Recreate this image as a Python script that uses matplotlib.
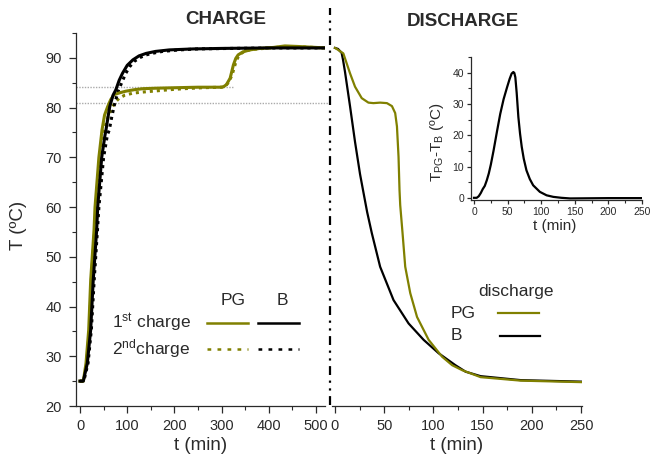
import numpy as np
import matplotlib
matplotlib.use("Agg")
import matplotlib.pyplot as plt
from matplotlib.lines import Line2D
from matplotlib.ticker import MultipleLocator

plt.rcParams['font.family'] = ['Liberation Sans', 'DejaVu Sans']
plt.rcParams['mathtext.fontset'] = 'custom'
plt.rcParams['mathtext.rm'] = 'Liberation Sans'
plt.rcParams['mathtext.it'] = 'Liberation Sans'

OLIVE = '#808000'
DARK = '#2a2a2a'

# --- charge (left panel) ---
t_pg1 = [0, 7, 12.7, 18.4, 22.6, 29.7, 31.8, 40, 46.6, 52, 58.6, 65, 72, 85, 97, 115, 133, 160,
         203, 250, 300, 304, 310, 318, 325, 330, 335, 345, 360, 381, 410, 434, 460, 500, 519]
T_pg1 = [25, 25, 28.6, 35.3, 45.3, 55.4, 60, 70, 75.5, 78.5, 80.2, 81.6, 82.6, 83.0, 83.3, 83.6, 83.8, 83.9,
         84.0, 84.1, 84.1, 84.2, 84.6, 85.9, 88.6, 89.9, 90.6, 91.2, 91.6, 91.9, 92.1, 92.4, 92.3, 92.1, 92.0]

t_b1 = [0, 7, 15.5, 22.6, 28, 35.3, 37.5, 46, 53, 55, 60, 63, 70, 76, 83, 90, 100, 112, 125, 140,
        160, 189, 240, 300, 400, 519]
T_b1 = [25, 25, 28.6, 35.3, 45.3, 55.4, 60, 70, 74.5, 75.5, 78.5, 80.2, 82.5, 83.6, 85.5, 86.9, 88.5, 89.6, 90.4, 90.9,
        91.3, 91.6, 91.8, 91.9, 92.0, 92.0]

t_pg2 = [0, 8, 14, 20, 24, 31, 34, 43, 51, 60, 69, 76, 83, 95, 112, 130, 154, 190, 220, 260, 300,
         308, 314, 322, 329, 334, 340, 350, 365, 390, 430, 470, 519]
T_pg2 = [25, 25, 28.6, 35.3, 45.3, 55.4, 60, 70, 75.5, 78.3, 80.2, 81.2, 81.9, 82.5, 82.9, 83.1, 83.3, 83.6, 83.8, 84.0, 84.1,
         84.3, 85.0, 86.5, 88.8, 90.0, 90.8, 91.4, 91.7, 91.9, 92.2, 92.2, 92.0]

t_b2 = [0, 8, 17, 24, 30, 37, 40, 50, 58, 62, 67, 72, 78, 82, 91, 97, 105, 115, 128, 140, 158, 175,
        210, 250, 320, 420, 519]
T_b2 = [25, 25, 28.6, 35.3, 45.3, 55.4, 60, 70, 74.5, 75.5, 78.0, 80.2, 82.4, 83.6, 85.6, 86.9, 88.2, 89.3, 90.1, 90.6, 91.0, 91.3,
        91.6, 91.8, 91.9, 92.0, 92.0]

# --- discharge (right panel) ---
t_bd = [0, 3.1, 6.8, 8.2, 10.2, 15.3, 20.4, 25.5, 28.9, 32.7, 37.4, 45.9, 59.5, 74.8, 90.1, 105.4,
        122.4, 132.7, 148, 188.8, 250]
T_bd = [92.0, 91.8, 91.0, 89.6, 87.2, 80.3, 73.1, 66.6, 63.0, 59.0, 54.8, 48.0, 41.3, 36.6, 33.3, 30.6,
        28.2, 26.9, 26.0, 25.2, 24.9]

t_pgd = [0, 1.7, 8.5, 11.9, 15.3, 20.4, 27.2, 34.0, 39.1, 45.9, 52.8, 57.9, 61.2, 63.0, 64.6, 65.6,
         66.3, 68.7, 71.4, 76.5, 83.4, 95.2, 108.9, 119.1, 129.3, 148, 188.8, 250]
T_pgd = [92.0, 91.8, 90.9, 88.9, 86.9, 84.2, 81.9, 81.0, 80.9, 81.0, 80.9, 80.3, 78.9, 76.2, 70.1, 63.4,
         60.4, 54.7, 48.0, 42.7, 37.9, 33.3, 29.9, 28.2, 27.2, 25.8, 25.1, 24.8]

# --- inset: T_PG - T_B during discharge ---
t_diff = [0, 4, 7, 10, 13, 16, 19, 22, 25, 29, 34, 39, 44, 49, 53, 56, 58.5, 60, 61.5, 63.5, 66,
          68.5, 71, 74, 78, 83, 88, 98, 108, 118, 130, 143, 200, 250]
v_diff = [0, 0, 0.5, 1.5, 2.8, 3.8, 5.6, 7.8, 10.6, 15.0, 21.0, 26.8, 31.5, 35.2, 38.0, 39.7, 40.2, 39.9, 38.5, 33.5, 25.8,
          20.5, 16.3, 12.5, 8.8, 6.0, 4.0, 1.9, 0.8, 0.3, 0, -0.2, -0.1, -0.1]

T_plateau_charge = 84.2
T_plateau_discharge = 80.9


def style_axis(ax, fs):
    for s in ['top', 'right']:
        ax.spines[s].set_visible(False)
    for s in ['left', 'bottom']:
        ax.spines[s].set_color(DARK)
        ax.spines[s].set_linewidth(0.9)
    ax.tick_params(which='major', direction='out', length=5, width=0.9, color=DARK,
                   labelsize=fs, labelcolor=DARK, pad=4)
    ax.tick_params(which='minor', direction='out', length=3, width=0.8, color=DARK)


fig = plt.figure(figsize=(6.5, 4.57), dpi=100)
axL = fig.add_axes([76/650, 51/457, 249/650, 373/457])
axR = fig.add_axes([332/650, 51/457, 250/650, 373/457])
axI = fig.add_axes([471/650, 257/457, 171/650, 143/457])

# left panel
axL.axhline(T_plateau_charge, xmax=0.63, color='#aaaaaa', lw=1, ls=(0, (1, 1)), zorder=1)
axL.plot([-8.5, 614], [T_plateau_discharge] * 2, color='#aaaaaa', lw=1, ls=(0, (1, 1)),
         clip_on=False, zorder=1)
axL.plot(t_pg2, T_pg2, color=OLIVE, lw=2.2, ls=(0, (1, 1.3)))
axL.plot(t_b2, T_b2, color='black', lw=2.2, ls=(0, (1, 1.3)))
axL.plot(t_pg1, T_pg1, color=OLIVE, lw=2.2)
axL.plot(t_b1, T_b1, color='black', lw=2.2)
axL.set_xlim(-8.5, 519)
axL.set_ylim(20, 95)
axL.xaxis.set_major_locator(MultipleLocator(100))
axL.xaxis.set_minor_locator(MultipleLocator(50))
axL.yaxis.set_major_locator(MultipleLocator(10))
axL.yaxis.set_minor_locator(MultipleLocator(5))
style_axis(axL, 10.5)
axL.tick_params(axis='y', which='major', pad=5)
axL.set_xlabel('t (min)', fontsize=13.5, color=DARK)
axL.xaxis.set_label_coords(0.5, -0.082)
axL.set_ylabel('T (ºC)', fontsize=13.5, color=DARK)
axL.yaxis.set_label_coords(-0.197, 0.485)

# left legend
axL.text(0.63, 0.284, 'PG', transform=axL.transAxes, ha='center', va='center', fontsize=12.5, color=DARK)
axL.text(0.83, 0.284, 'B', transform=axL.transAxes, ha='center', va='center', fontsize=12.5, color=DARK)
axL.text(0.462, 0.222, '1$^{\\mathrm{st}}$ charge', transform=axL.transAxes, ha='right', va='center',
         fontsize=12.5, color=DARK)
axL.text(0.458, 0.153, '2$^{\\mathrm{nd}}$charge', transform=axL.transAxes, ha='right', va='center',
         fontsize=12.5, color=DARK)
axL.plot([0.526, 0.69], [0.222, 0.222], transform=axL.transAxes, color=OLIVE, lw=1.8)
axL.plot([0.731, 0.896], [0.222, 0.222], transform=axL.transAxes, color='black', lw=1.8)
axL.plot([0.526, 0.69], [0.153, 0.153], transform=axL.transAxes, color=OLIVE, lw=1.8, ls=(0, (1.5, 2.5)))
axL.plot([0.731, 0.896], [0.153, 0.153], transform=axL.transAxes, color='black', lw=1.8, ls=(0, (1.5, 2.5)))

# right panel
axR.plot(t_bd, T_bd, color='black', lw=1.6)
axR.plot(t_pgd, T_pgd, color=OLIVE, lw=1.6)
axR.set_xlim(-3, 251)
axR.set_ylim(20, 95)
axR.xaxis.set_major_locator(MultipleLocator(50))
axR.xaxis.set_minor_locator(MultipleLocator(25))
style_axis(axR, 10.5)
axR.spines['left'].set_visible(False)
axR.set_yticks([])
axR.set_xlabel('t (min)', fontsize=13.5, color=DARK)
axR.xaxis.set_label_coords(0.5, -0.082)

axR.text(0.736, 0.306, 'discharge', transform=axR.transAxes, ha='center', va='center', fontsize=12.5, color=DARK)
axR.text(0.476, 0.249, 'PG', transform=axR.transAxes, ha='left', va='center', fontsize=12.5, color=DARK)
axR.text(0.476, 0.188, 'B', transform=axR.transAxes, ha='left', va='center', fontsize=12.5, color=DARK)
axR.plot([0.664, 0.828], [0.249, 0.249], transform=axR.transAxes, color=OLIVE, lw=1.6)
axR.plot([0.672, 0.832], [0.188, 0.188], transform=axR.transAxes, color='black', lw=1.6)

# inset
axI.plot(t_diff, v_diff, color='black', lw=1.6)
axI.set_xlim(-4.5, 250)
axI.set_ylim(-0.7, 45)
axI.xaxis.set_major_locator(MultipleLocator(50))
axI.xaxis.set_minor_locator(MultipleLocator(25))
axI.yaxis.set_major_locator(MultipleLocator(10))
axI.yaxis.set_minor_locator(MultipleLocator(5))
style_axis(axI, 7.5)
axI.tick_params(which='major', length=3, pad=2)
axI.tick_params(which='minor', length=2)
axI.set_xlabel('t (min)', fontsize=11, color=DARK)
axI.xaxis.set_label_coords(0.49, -0.13)
axI.set_ylabel('T$_{\\mathrm{PG}}$-T$_{\\mathrm{B}}$ (ºC)', fontsize=11, color=DARK)
axI.yaxis.set_label_coords(-0.145, 0.405)

# separator between the two stages
fig.add_artist(Line2D([330/650, 330/650], [1 - 405/457, 1 - 8/457], color='black', lw=1.6,
                      ls=(0, (4, 2.5, 1, 2.5, 1, 2.5))))

fig.text(226/650, 1 - 20/457, 'CHARGE', ha='center', va='center', fontsize=13.5, weight='bold', color=DARK)
fig.text(463/650, 1 - 22/457, 'DISCHARGE', ha='center', va='center', fontsize=13.5, weight='bold', color=DARK)

fig.savefig('out.png', dpi=100)
